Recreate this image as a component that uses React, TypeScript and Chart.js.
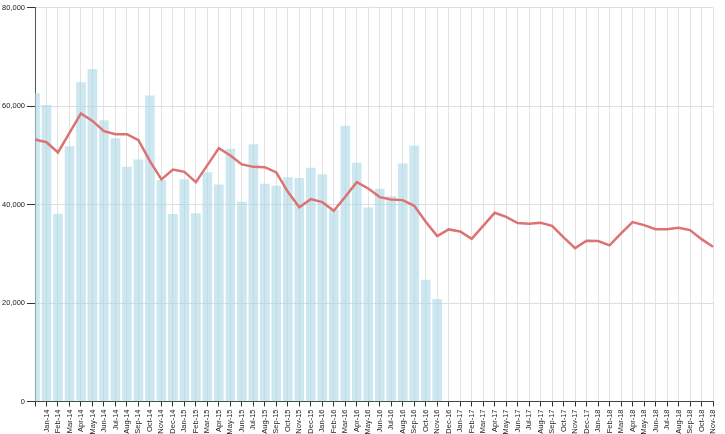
import { useEffect, useRef } from 'react';
import { Chart, registerables } from 'chart.js';

Chart.register(...registerables);

const categories = [
  'Dec-13',
  'Jan-14', 'Feb-14', 'Mar-14', 'Apr-14', 'May-14', 'Jun-14', 'Jul-14', 'Aug-14', 'Sep-14', 'Oct-14', 'Nov-14', 'Dec-14',
  'Jan-15', 'Feb-15', 'Mar-15', 'Apr-15', 'May-15', 'Jun-15', 'Jul-15', 'Aug-15', 'Sep-15', 'Oct-15', 'Nov-15', 'Dec-15',
  'Jan-16', 'Feb-16', 'Mar-16', 'Apr-16', 'May-16', 'Jun-16', 'Jul-16', 'Aug-16', 'Sep-16', 'Oct-16', 'Nov-16', 'Dec-16',
  'Jan-17', 'Feb-17', 'Mar-17', 'Apr-17', 'May-17', 'Jun-17', 'Jul-17', 'Aug-17', 'Sep-17', 'Oct-17', 'Nov-17', 'Dec-17',
  'Jan-18', 'Feb-18', 'Mar-18', 'Apr-18', 'May-18', 'Jun-18', 'Jul-18', 'Aug-18', 'Sep-18', 'Oct-18', 'Nov-18',
];

const actualValues = [
  62540, 60160, 38040, 51780, 64770, 67460, 57060, 53400, 47580, 49060, 62050, 44900,
  37980, 45080, 38180, 46500, 44000, 51230, 40480, 52190, 44130, 43730, 45490, 45290,
  47380, 46100, 38860, 55900, 48390, 39330, 43120, 41630, 48260, 51910, 24650, 20730,
];

const trendValues = [
  53200, 52650, 50560, 54520, 58480, 56980, 54890, 54280, 54280, 53060, 48800, 45100,
  47110, 46630, 44540, 47990, 51440, 49950, 48130, 47640, 47580, 46500, 42570, 39450,
  41090, 40480, 38720, 41560, 44540, 43260, 41500, 41020, 40890, 39730, 36480, 33600,
  34940, 34530, 33030, 35670, 38310, 37500, 36220, 36080, 36280, 35670, 33320, 31150,
  32630, 32570, 31700, 34130, 36420, 35810, 35000, 35000, 35260, 34800, 32970, 31410,
];

const yTicks = [0, 20000, 40000, 60000, 80000];

export default function App() {
  const ref = useRef<HTMLCanvasElement>(null);

  useEffect(() => {
    document.body.style.margin = '0';
    const font = { family: '"Liberation Sans", Arial, sans-serif', size: 7.5 };
    const chart = new Chart(ref.current as HTMLCanvasElement, {
      type: 'bar',
      data: {
        labels: categories,
        datasets: [
          {
            type: 'line',
            data: trendValues,
            borderColor: '#dd7272',
            borderWidth: 2.5,
            pointRadius: 0,
            fill: false,
            tension: 0,
            order: 0,
          } as any,
          {
            type: 'bar',
            data: actualValues,
            backgroundColor: 'rgba(173,216,230,0.62)',
            barThickness: 9,
            order: 1,
            clip: 0,
          } as any,
        ],
      },
      options: {
        responsive: false,
        animation: false,
        plugins: { legend: { display: false }, tooltip: { enabled: false } },
        layout: { padding: { top: 7.5, right: 6, left: 0, bottom: 0 } },
        scales: {
          x: {
            offset: false,
            grid: { offset: false, color: '#e2e2e2', tickColor: '#333', tickLength: 5 },
            border: { color: '#444' },
            ticks: {
              autoSkip: false,
              maxRotation: 90,
              minRotation: 90,
              padding: 3,
              font,
              color: '#222',
              callback: (_v: any, i: number) => (i === 0 ? '' : categories[i]),
            },
            afterFit: (s: any) => {
              s.height = 32.5;
            },
          },
          y: {
            min: yTicks[0],
            max: yTicks[yTicks.length - 1],
            afterBuildTicks: (s: any) => {
              s.ticks = yTicks.map((v) => ({ value: v }));
            },
            ticks: {
              font,
              color: '#222',
              padding: 2,
              callback: (v: any) => Number(v).toLocaleString('en-US'),
            },
            grid: { color: '#dedede', tickColor: '#333', tickLength: 8 },
            border: { color: '#555' },
            afterFit: (s: any) => {
              s.width = 35;
            },
          },
        },
      },
    });
    return () => chart.destroy();
  }, []);

  return (
    <div style={{ position: 'absolute', left: 0, top: 0, width: 725, height: 434 }}>
      <canvas ref={ref} width={725} height={434} style={{ display: 'block' }} />
    </div>
  );
}
